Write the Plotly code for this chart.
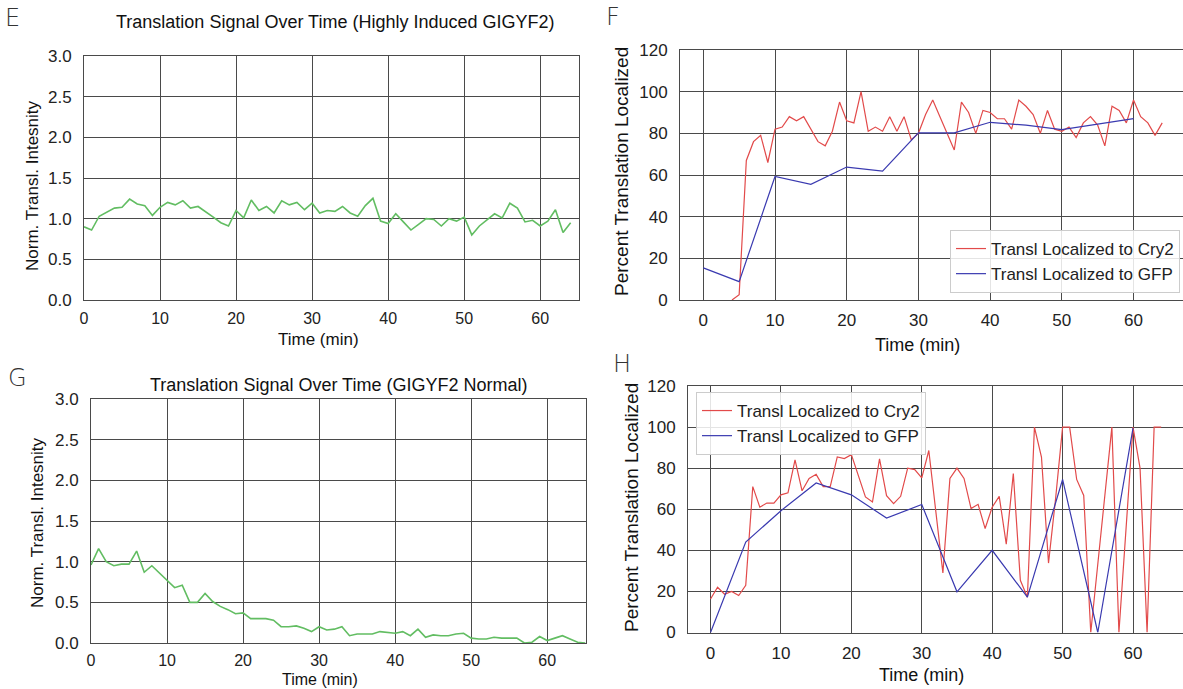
import plotly.graph_objects as go

W, H = 1183, 689

# ---------------- data ----------------
time_E = list(range(0, 65))
intensity_E = [0.90, 0.86, 1.03, 1.08, 1.13, 1.14, 1.24, 1.18, 1.16, 1.04,
               1.14, 1.20, 1.17, 1.22, 1.13, 1.15, 1.09, 1.02, 0.95, 0.91,
               1.10, 1.01, 1.23, 1.10, 1.15, 1.07, 1.22, 1.17, 1.20, 1.11,
               1.19, 1.07, 1.10, 1.09, 1.15, 1.07, 1.03, 1.16, 1.25, 0.97,
               0.94, 1.06, 0.96, 0.86, 0.93, 1.00, 0.99, 0.91, 1.00, 0.97,
               1.02, 0.80, 0.91, 0.99, 1.06, 1.01, 1.19, 1.13, 0.96, 0.98,
               0.91, 0.97, 1.11, 0.83, 0.95]

time_G = list(range(0, 66))
intensity_G = [0.96, 1.16, 1.00, 0.95, 0.97, 0.97, 1.13, 0.87, 0.95, 0.86,
               0.77, 0.68, 0.71, 0.50, 0.50, 0.61, 0.51, 0.45, 0.41, 0.36,
               0.37, 0.30, 0.30, 0.30, 0.28, 0.20, 0.20, 0.21, 0.18, 0.14,
               0.20, 0.16, 0.17, 0.20, 0.09, 0.11, 0.11, 0.11, 0.14, 0.13,
               0.12, 0.14, 0.09, 0.17, 0.07, 0.10, 0.09, 0.09, 0.11, 0.12,
               0.06, 0.05, 0.05, 0.07, 0.06, 0.06, 0.06, 0.00, 0.01, 0.08,
               0.03, 0.06, 0.09, 0.05, 0.01, 0.00]

time_F_cry2 = list(range(4, 65))
pct_F_cry2 = [0, 2.5, 67, 76, 79, 66, 82, 83, 88, 86,
              88, 82, 76, 74, 81, 95, 86, 85, 100, 81,
              83, 81, 88, 81, 88, 77, 80, 89, 96, 88,
              80, 72, 95, 90, 80, 91, 90, 87, 87, 82,
              96, 93, 89, 80, 91, 82, 81, 83, 78, 85,
              88, 84, 74, 93, 91, 85, 96, 88, 85, 79,
              85]
time_F_gfp = [0, 5, 10, 15, 20, 25, 30, 35, 40, 45, 50, 55, 60]
pct_F_gfp = [15.4, 8.8, 59.3, 55.5, 63.8, 61.9, 80.2, 80.2, 85.3, 83.9, 81.8, 84.4, 87.1]

time_H_cry2 = list(range(0, 65))
pct_H_cry2 = [16.3, 22, 18.6, 20, 18, 23, 71, 61, 63, 63,
              67, 68, 84, 69, 75, 77, 71, 71, 85.5, 84.7,
              86.6, 76, 66, 63.5, 84.5, 66.6, 62.7, 66.3, 80, 79.3,
              75.3, 88.6, 58, 29, 75, 80, 75, 60.3, 62.4, 50.6,
              61, 66.3, 43, 77.4, 25.4, 17.2, 100, 85.4, 33.8, 65,
              100, 100, 74.5, 66.7, 0, 33, 67, 100, 0, 50,
              100, 80, 0, 100, 100]
time_H_gfp = [0, 5, 10, 15, 20, 25, 30, 35, 40, 45, 50, 55, 60]
pct_H_gfp = [0, 44, 59.3, 72.8, 67, 55.7, 62.3, 19.8, 40, 17.2, 74.5, 0, 99.5]

intensity_ticks = [0.0, 0.5, 1.0, 1.5, 2.0, 2.5, 3.0]
intensity_ticklabels = ["0.0", "0.5", "1.0", "1.5", "2.0", "2.5", "3.0"]
pct_ticks = [0, 20, 40, 60, 80, 100, 120]
time_ticks = [0, 10, 20, 30, 40, 50, 60]

# ---------------- style ----------------
FONT = "Liberation Sans, Arial, sans-serif"
GREEN = "#62BD62"
RED = "#E24A4A"
BLUE = "#3A3AB0"
GRID = "#4a4a4a"

def px(x):
    return x / W

def py(y):
    return 1 - y / H

fig = go.Figure()

fig.add_trace(go.Scatter(x=time_E, y=intensity_E, mode="lines",
                         line=dict(color=GREEN, width=1.6), showlegend=False,
                         xaxis="x", yaxis="y"))
fig.add_trace(go.Scatter(x=time_F_cry2, y=pct_F_cry2, mode="lines",
                         line=dict(color=RED, width=1.2), name="Transl Localized to Cry2",
                         legend="legend", xaxis="x2", yaxis="y2"))
fig.add_trace(go.Scatter(x=time_F_gfp, y=pct_F_gfp, mode="lines",
                         line=dict(color=BLUE, width=1.2), name="Transl Localized to GFP",
                         legend="legend", xaxis="x2", yaxis="y2"))
fig.add_trace(go.Scatter(x=time_G, y=intensity_G, mode="lines",
                         line=dict(color=GREEN, width=1.6), showlegend=False,
                         xaxis="x3", yaxis="y3"))
fig.add_trace(go.Scatter(x=time_H_cry2, y=pct_H_cry2, mode="lines",
                         line=dict(color=RED, width=1.2), name="Transl Localized to Cry2",
                         legend="legend2", xaxis="x4", yaxis="y4"))
fig.add_trace(go.Scatter(x=time_H_gfp, y=pct_H_gfp, mode="lines",
                         line=dict(color=BLUE, width=1.2), name="Transl Localized to GFP",
                         legend="legend2", xaxis="x4", yaxis="y4"))

TICKFONT = dict(family=FONT, size=17, color="#222")
TICKFONT_S = dict(family=FONT, size=16, color="#222")
common_x = dict(tickvals=time_ticks, showgrid=True, gridcolor=GRID, gridwidth=1,
                showline=True, linecolor=GRID, linewidth=1, mirror=True,
                zeroline=False, ticks="outside", ticklen=5, tickcolor="rgba(0,0,0,0)",
                tickfont=TICKFONT, automargin=False)
common_y = dict(showgrid=True, gridcolor=GRID, gridwidth=1,
                showline=True, linecolor=GRID, linewidth=1, mirror=True,
                zeroline=False, ticks="outside", ticklen=8, tickcolor="rgba(0,0,0,0)",
                tickfont=TICKFONT, automargin=False)

LEGFONT = dict(family=FONT, size=17, color="#222")
fig.update_layout(
    width=W, height=H,
    margin=dict(l=0, r=0, t=0, b=0),
    paper_bgcolor="white", plot_bgcolor="white",
    xaxis=dict(common_x, domain=[px(84), px(579)], range=[0, 65.1], anchor="y",
               tickfont=TICKFONT_S, ticklen=4),
    yaxis=dict(common_y, domain=[py(300), py(56)], range=[0, 3],
               tickvals=intensity_ticks, ticktext=intensity_ticklabels, anchor="x"),
    xaxis2=dict(common_x, domain=[px(680), 1.0], range=[-3.25, 66.9], anchor="y2"),
    yaxis2=dict(common_y, domain=[py(300), py(50)], range=[0, 120],
                tickvals=pct_ticks, anchor="x2"),
    xaxis3=dict(common_x, domain=[px(91), px(586)], range=[0, 65.1], anchor="y3",
                tickfont=TICKFONT_S, ticklen=3),
    yaxis3=dict(common_y, domain=[py(643), py(399)], range=[0, 3],
                tickvals=intensity_ticks, ticktext=intensity_ticklabels, anchor="x3"),
    xaxis4=dict(common_x, domain=[px(688), 1.0], range=[-3.2, 67.1], anchor="y4"),
    yaxis4=dict(common_y, domain=[py(632.5), py(386)], range=[0, 120],
                tickvals=pct_ticks, anchor="x4"),
    legend=dict(x=px(1180), y=py(293), xanchor="right", yanchor="bottom",
                bgcolor="rgba(255,255,255,0.85)", bordercolor="#cccccc", borderwidth=1,
                font=LEGFONT, tracegroupgap=0),
    legend2=dict(x=px(696), y=py(392), xanchor="left", yanchor="top",
                 bgcolor="rgba(255,255,255,0.85)", bordercolor="#cccccc", borderwidth=1,
                 font=LEGFONT, tracegroupgap=0),
)

LETTER = dict(family="DejaVu Sans, Liberation Sans, sans-serif", size=24, color="#333", weight=200)
TITLEFONT = dict(family=FONT, size=18, color="#111")
AXFONT = dict(family=FONT, size=18, color="#111")
AXFONT_S = dict(family=FONT, size=17, color="#111")
annotations = [
    # panel letters
    dict(text="E", x=px(12), y=py(18), xanchor="center", yanchor="middle", font=LETTER),
    dict(text="F", x=px(613), y=py(17), xanchor="center", yanchor="middle", font=LETTER),
    dict(text="G", x=px(17), y=py(378), xanchor="center", yanchor="middle", font=LETTER),
    dict(text="H", x=px(622), y=py(364), xanchor="center", yanchor="middle", font=LETTER),
    # titles
    dict(text="Translation Signal Over Time (Highly Induced GIGYF2)", x=px(335), y=py(22),
         xanchor="center", yanchor="middle", font=TITLEFONT),
    dict(text="Translation Signal Over Time (GIGYF2 Normal)", x=px(338), y=py(385),
         xanchor="center", yanchor="middle", font=TITLEFONT),
    # x axis titles
    dict(text="Time (min)", x=px(318), y=py(339), xanchor="center", yanchor="middle", font=AXFONT_S),
    dict(text="Time (min)", x=px(918), y=py(345), xanchor="center", yanchor="middle", font=AXFONT),
    dict(text="Time (min)", x=px(320), y=py(679), xanchor="center", yanchor="middle",
         font=dict(AXFONT_S, size=16)),
    dict(text="Time (min)", x=px(921), y=py(675), xanchor="center", yanchor="middle", font=AXFONT),
    # y axis titles
    dict(text="Norm. Transl. Intesnity", x=px(32), y=py(186), textangle=-90,
         xanchor="center", yanchor="middle", font=AXFONT_S),
    dict(text="Percent Translation Localized", x=px(621), y=py(172), textangle=-90,
         xanchor="center", yanchor="middle", font=dict(AXFONT, size=19)),
    dict(text="Norm. Transl. Intesnity", x=px(37), y=py(523), textangle=-90,
         xanchor="center", yanchor="middle", font=AXFONT_S),
    dict(text="Percent Translation Localized", x=px(631), y=py(508), textangle=-90,
         xanchor="center", yanchor="middle", font=dict(AXFONT, size=19)),
]
for a in annotations:
    a.update(xref="paper", yref="paper", showarrow=False)
fig.update_layout(annotations=annotations)

fig.write_html("out.html", config={"displayModeBar": False},
               post_script="document.body.style.margin='0';document.body.style.overflow='hidden';")
